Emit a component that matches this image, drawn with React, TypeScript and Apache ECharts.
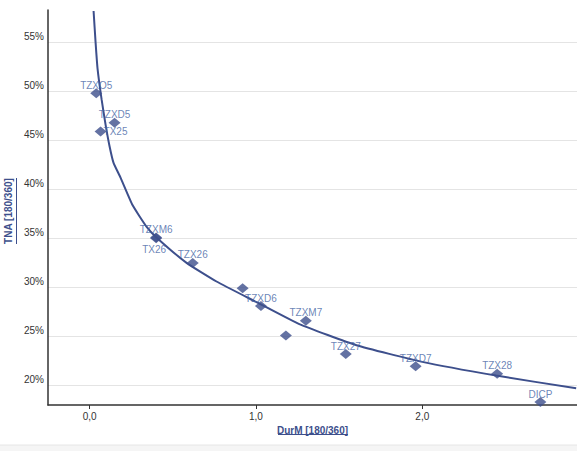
import React, { useEffect, useRef } from "react";
import * as echarts from "echarts";

// bonds: duration (x) vs rate (y, %)
const bondNames = ["TZXO5", "TZXD5", "TX25", "TZXM6", "TX26", "TZX26", "", "TZXD6", "", "TZXM7", "TZX27", "TZXD7", "TZX28", "DICP"];
const bondDur = [0.04, 0.15, 0.066, 0.4, 0.4, 0.62, 0.92, 1.03, 1.18, 1.3, 1.54, 1.96, 2.45, 2.71];
const bondRate = [49.8, 46.8, 45.9, 35.1, 35.0, 32.5, 29.9, 28.1, 25.1, 26.6, 23.2, 21.95, 21.2, 18.3];

// fitted curve
const curveDur = [0.024, 0.036, 0.048, 0.072, 0.096, 0.12, 0.144, 0.186, 0.258, 0.342, 0.402, 0.583, 0.763, 1.003, 1.261, 1.604, 2.0, 2.444, 2.925];
const curveRate = [58.2, 55.0, 52.3, 49.2, 46.6, 44.4, 42.7, 41.2, 38.4, 36.2, 35.1, 32.5, 30.6, 28.5, 26.25, 24.1, 22.4, 21.0, 19.7];

const NAVY = "#3d4f8c";
const LABEL_BLUE = "#4565a5";

export default function App() {
  const chartRef = useRef<HTMLDivElement>(null);

  useEffect(() => {
    if (!chartRef.current) return;
    const chart = echarts.init(chartRef.current, undefined, { renderer: "svg" });

    const labelPos = (name: string) => {
      if (name === "TX25") return { position: "right", distance: -3 };
      if (name === "TX26") return { position: "bottom", distance: 1, offset: [-2, 0] };
      return { position: "top", distance: -2 };
    };

    chart.setOption({
      animation: false,
      textStyle: { fontFamily: "'Liberation Sans', Arial, sans-serif" },
      grid: { left: 48, right: 0, top: 10, bottom: 46, outerBoundsMode: "none" },
      xAxis: {
        type: "value",
        min: -0.25,
        max: 2.93,
        minInterval: 1,
        maxInterval: 1,
        name: "DurM [180/360]",
        nameLocation: "middle",
        nameGap: 17,
        nameTextStyle: { color: NAVY, fontWeight: "bold", fontSize: 10 },
        axisLine: { onZero: false, lineStyle: { color: "#333", width: 1.5 } },
        axisTick: { show: true, length: 4, lineStyle: { color: "#333" } },
        axisLabel: {
          color: "#333",
          fontSize: 10,
          margin: 6,
          showMinLabel: false,
          showMaxLabel: false,
          formatter: (v: number) => v.toFixed(1).replace(".", ","),
        },
        splitLine: { show: false },
      },
      yAxis: {
        type: "value",
        min: 18,
        max: 58.3,
        minInterval: 5,
        maxInterval: 5,
        name: "TNA [180/360]",
        nameLocation: "middle",
        nameGap: 31,
        nameTextStyle: { color: NAVY, fontWeight: "bold", fontSize: 10, padding: [0, 7, 0, 0] },
        axisLine: { show: true, onZero: false, lineStyle: { color: "#333", width: 1.5 } },
        axisTick: { show: false },
        axisLabel: {
          color: "#333",
          fontSize: 10,
          margin: 4,
          verticalAlign: "bottom",
          padding: [0, 0, 1, 0],
          showMinLabel: false,
          showMaxLabel: false,
          formatter: (v: number) => v + "%",
        },
        splitLine: { show: true, showMinLine: false, showMaxLine: false, lineStyle: { color: "#e4e4e4" } },
      },
      graphic: [
        { type: "line", shape: { x1: 278, y1: 434.5, x2: 348, y2: 434.5 }, style: { stroke: NAVY, lineWidth: 1 } },
        { type: "line", shape: { x1: 16.5, y1: 178, x2: 16.5, y2: 244 }, style: { stroke: NAVY, lineWidth: 1 } },
        { type: "rect", shape: { x: 0, y: 445, width: 577, height: 6 }, style: { fill: "#f5f5f5" } },
        { type: "line", shape: { x1: 0, y1: 445, x2: 577, y2: 445 }, style: { stroke: "#e6e6e6", lineWidth: 1 } },
      ],
      series: [
        {
          type: "line",
          data: curveDur.map((d, i) => [d, curveRate[i]]),
          showSymbol: false,
          smooth: 0.15,
          lineStyle: { color: NAVY, width: 2 },
          z: 2,
        },
        {
          type: "scatter",
          symbol: "diamond",
          symbolSize: [12, 10],
          itemStyle: { color: NAVY },
          z: 3,
          data: bondNames.map((n, i) => ({
            name: n,
            value: [bondDur[i], bondRate[i]],
            label: { show: n !== "", ...labelPos(n) },
          })),
          label: {
            formatter: (p: { name: string }) => p.name,
            color: LABEL_BLUE,
            fontSize: 10,
          },
        },
      ],
    });

    return () => {
      chart.dispose();
    };
  }, []);

  return (
    <div style={{ position: "absolute", left: 0, top: 0, width: 577, height: 451, background: "#fff" }}>
      <div ref={chartRef} style={{ width: 577, height: 451 }} />
    </div>
  );
}
